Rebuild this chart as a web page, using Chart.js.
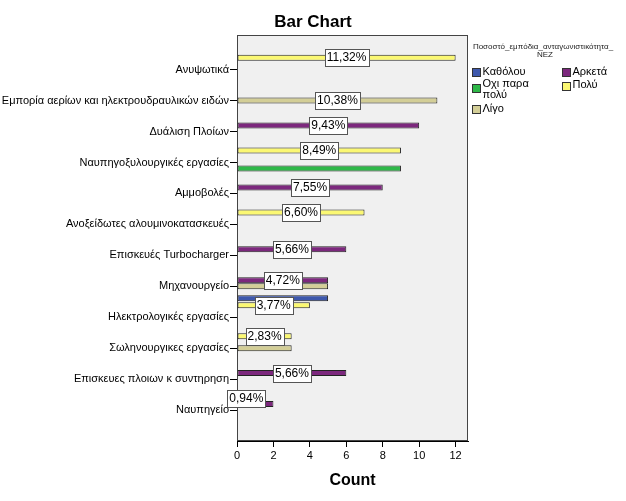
<!DOCTYPE html>
<html>
<head>
<meta charset="utf-8">
<script src="https://cdn.jsdelivr.net/npm/chart.js@4"></script>
<style>
  body { margin: 0; background: #fff; }
</style>
</head>
<body>
<canvas id="barChart" width="626" height="501"></canvas>
<script>
const categories = [
    'Ανυψωτικά',
    'Εμπορία αερίων και ηλεκτρουδραυλικών ειδών',
    'Δυάλιση Πλοίων',
    'Ναυπηγοξυλουργικές εργασίες',
    'Αμμοβολές',
    'Ανοξείδωτες αλουμινοκατασκευές',
    'Επισκευές Turbocharger',
    'Μηχανουργείο',
    'Ηλεκτρολογικές εργασίες',
    'Σωληνουργικες εργασίες',
    'Επισκευες πλοιων κ συντηρηση',
    'Ναυπηγείο'
];
// counts per answer
const poly        = [12, 0, 0, 9, 0, 7, 0, 0, 4, 3, 0, 1];
const arketa      = [0, 0, 10, 0, 8, 0, 6, 5, 0, 0, 6, 2];
const ligo        = [0, 11, 0, 0, 0, 0, 0, 5, 0, 3, 0, 0];
const oxiParaPoly = [0, 0, 0, 9, 0, 0, 0, 0, 0, 0, 0, 0];
const katholou    = [0, 0, 0, 0, 0, 0, 0, 5, 0, 0, 0, 0];
const xTicks = [0, 2, 4, 6, 8, 10, 12];
const legendTitle = ['Ποσοστό_εμπόδια_ανταγωνιστικότητα_', 'ΝΕΖ'];

const FONT = "'Liberation Sans', Arial, sans-serif";
const total = [poly, arketa, ligo, oxiParaPoly, katholou]
    .reduce((s, arr) => s + arr.reduce((a, b) => a + b, 0), 0);

function toPoints(arr) {
    return arr.map((v, i) => ({ x: v === 0 ? null : v, y: i }));
}

// dataset order = order of the bars inside each category (top to bottom)
const series = [
    { label: 'Πολύ', data: poly, color: '#FBF873' },
    { label: 'Αρκετά', data: arketa, color: '#7C287D' },
    { label: 'Λίγο', data: ligo, color: '#D3CE97' },
    { label: 'Οχι παρα πολύ', data: oxiParaPoly, color: '#2EB848' },
    { label: 'Καθόλου', data: katholou, color: '#3E58AC' }
];

// legend layout like SPSS: two columns
const legendItems = [
    { lines: ['Καθόλου'], color: '#3E58AC', x: 472, y: 71.5, sy: 71.5 },
    { lines: ['Αρκετά'], color: '#7C287D', x: 562, y: 71.5, sy: 71.5 },
    { lines: ['Οχι παρα', 'πολύ'], color: '#2EB848', x: 472, y: 84, sy: 88 },
    { lines: ['Πολύ'], color: '#FBF873', x: 562, y: 85, sy: 85.5 },
    { lines: ['Λίγο'], color: '#D3CE97', x: 472, y: 108.5, sy: 108.5 }
];

const spssPlugin = {
    id: 'spss',
    beforeDraw(chart) {
        const { ctx, chartArea: a } = chart;
        ctx.save();
        ctx.fillStyle = '#F0F0F0';
        ctx.fillRect(a.left, a.top, a.right - a.left, a.bottom - a.top);
        ctx.restore();
    },
    beforeDatasetsDraw(chart) {
        const { ctx, chartArea: a } = chart;
        ctx.save();
        ctx.strokeStyle = '#444';
        ctx.lineWidth = 1;
        ctx.strokeRect(Math.round(a.left) + 0.5, Math.round(a.top) + 0.5,
            Math.round(a.right - a.left) - 1, Math.round(a.bottom - a.top) - 1);
        ctx.restore();
    },
    afterDatasetsDraw(chart) {
        const ctx = chart.ctx;
        ctx.save();
        ctx.font = '12px ' + FONT;
        ctx.textAlign = 'center';
        ctx.textBaseline = 'middle';
        categories.forEach((c, i) => {
            // label only the first (top) bar of each category
            const d = series.findIndex(s => s.data[i] > 0);
            if (d < 0) return;
            const bar = chart.getDatasetMeta(d).data[i];
            const cx = (bar.x + bar.base) / 2;
            const cy = bar.y;
            const txt = (series[d].data[i] / total * 100).toFixed(2).replace('.', ',') + '%';
            const w = Math.round(ctx.measureText(txt).width + 4);
            const h = 17;
            const x0 = Math.round(cx - w / 2) + 0.5;
            const y0 = Math.round(cy - h / 2) + 0.5;
            ctx.fillStyle = '#fff';
            ctx.fillRect(x0, y0, w, h);
            ctx.strokeStyle = '#555';
            ctx.lineWidth = 1;
            ctx.strokeRect(x0, y0, w, h);
            ctx.fillStyle = '#000';
            ctx.fillText(txt, cx, cy + 0.5);
        });
        ctx.restore();
    },
    afterDraw(chart) {
        const ctx = chart.ctx;
        ctx.save();
        // title
        ctx.fillStyle = '#000';
        ctx.font = 'bold 17px ' + FONT;
        ctx.textAlign = 'center';
        ctx.textBaseline = 'middle';
        ctx.fillText('Bar Chart', 313, 22);

        // legend title
        ctx.font = '8px ' + FONT;
        ctx.fillStyle = '#222';
        ctx.fillText(legendTitle[0], 543, 47);
        ctx.fillText(legendTitle[1], 545, 55);

        // legend items
        ctx.textAlign = 'left';
        ctx.font = '11px ' + FONT;
        legendItems.forEach(it => {
            ctx.fillStyle = it.color;
            ctx.fillRect(it.x + 0.5, Math.round(it.sy - 4) + 0.5, 8, 8);
            ctx.strokeStyle = '#333';
            ctx.lineWidth = 1;
            ctx.strokeRect(it.x + 0.5, Math.round(it.sy - 4) + 0.5, 8, 8);
            ctx.fillStyle = '#000';
            it.lines.forEach((ln, k) => ctx.fillText(ln, it.x + 10.5, it.y + k * 11));
        });
        ctx.restore();
    }
};

new Chart(document.getElementById('barChart'), {
    type: 'bar',
    data: {
        datasets: series.map(s => ({
            label: s.label,
            data: toPoints(s.data),
            backgroundColor: s.color,
            borderColor: '#222',
            borderWidth: 1,
            borderSkipped: false
        }))
    },
    options: {
        responsive: false,
        animation: false,
        indexAxis: 'y',
        layout: { padding: { top: 35, right: 158, bottom: 0, left: 0 } },
        datasets: { bar: { categoryPercentage: 0.97, barPercentage: 1 } },
        plugins: {
            legend: { display: false },
            tooltip: { enabled: false }
        },
        scales: {
            x: {
                type: 'linear',
                position: 'bottom',
                min: 0,
                max: 12.68,
                grid: { drawOnChartArea: false, tickLength: 6, color: '#000', offset: false },
                border: { color: '#000' },
                ticks: { color: '#000', font: { size: 11, family: FONT }, padding: 2, autoSkip: false, maxRotation: 0 },
                afterBuildTicks: s => { s.ticks = xTicks.map(v => ({ value: v })); },
                afterFit: s => { s.height = 60; },
                title: {
                    display: true,
                    text: 'Count',
                    color: '#000',
                    font: { size: 16, weight: 'bold', family: FONT },
                    padding: { top: 4, bottom: 11 }
                }
            },
            y: {
                type: 'linear',
                reverse: true,
                offset: false,
                min: -1.12,
                max: 12,
                grid: { drawOnChartArea: false, tickLength: 7, color: '#000', offset: false },
                border: { color: '#000' },
                ticks: {
                    color: '#000',
                    font: { size: 11, family: FONT },
                    padding: 1,
                    autoSkip: false,
                    callback: v => categories[v]
                },
                afterBuildTicks: s => { s.ticks = categories.map((c, i) => ({ value: i })); },
                afterFit: s => { s.width = 237; }
            }
        }
    },
    plugins: [spssPlugin]
});
</script>
</body>
</html>
